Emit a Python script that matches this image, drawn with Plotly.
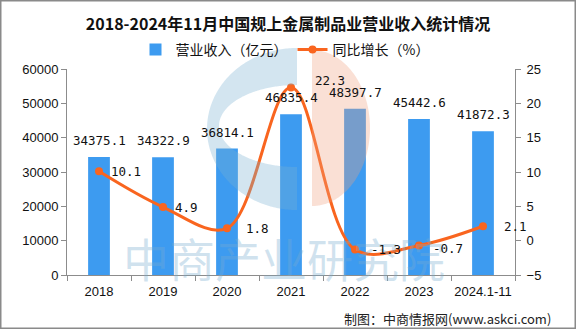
import numpy as np
import plotly.graph_objects as go

# ---- data ----
years = ["2018", "2019", "2020", "2021", "2022", "2023", "2024.1-11"]
revenue = [34375.1, 34322.9, 36814.1, 46835.4, 48397.7, 45442.6, 41872.3]   # 亿元
growth = [10.1, 4.9, 1.8, 22.3, -1.3, -0.7, 2.1]                            # %

# ---- styling ----
BAR_COLOR = "#3D9BF0"
LINE_COLOR = "#F9651F"
AXIS_COLOR = "#8C8C8C"
CJK = "Noto Sans CJK SC"
NUM = "DejaVu Sans Mono"
TICK = "Liberation Sans"

W, H = 576, 329
ML, MR, MT, MB = 67, 61, 69, 54
PW, PH = W - ML - MR, H - MT - MB

# label offsets (px) for the growth-rate labels
growth_dx = [10, 10, 17, 22, 14, 12, 19]
growth_dy = [0, 0, 0, 7, 0, -3, 0]


def px2paper(x, y):
    return (x - ML) / PW, (MT + PH - y) / PH


def path_from(points):
    pts = [px2paper(x, y) for x, y in points]
    return "M " + " L ".join(f"{a:.4f},{b:.4f}" for a, b in pts) + " Z"


# background logo: a "C" on the left and a half disc on the right
bx, by, brx, bry = 297, 129, 90, 81        # outer edge of the C
hx, hy, hrx, hry = 297, 126, 78, 41        # opening of the C
t = np.linspace(0, np.pi, 180)
c_outer = [(bx - brx * np.sin(a), by - bry * np.cos(a)) for a in t]
c_inner = [(hx - hrx * np.sin(a), hy - hry * np.cos(a)) for a in t[::-1]]
letter_c = path_from(c_outer + c_inner)

sx, sy, srx, sry = 312, 128, 58, 78
half_disc = path_from([(sx + srx * np.sin(a), sy - sry * np.cos(a)) for a in t])

fig = go.Figure()
fig.add_trace(go.Bar(
    x=years, y=revenue, name="营业收入（亿元）",
    marker=dict(color=BAR_COLOR, line=dict(width=0)),
    yaxis="y",
))
fig.add_trace(go.Scatter(
    x=years, y=growth, name="同比增长（%）",
    mode="lines+markers",
    line=dict(color=LINE_COLOR, width=3, shape="spline", smoothing=1),
    marker=dict(color=LINE_COLOR, size=8),
    yaxis="y2",
))

annotations = []
# watermark text
annotations.append(dict(
    text="中商产业研究院", xref="paper", yref="paper",
    x=px2paper(284, 0)[0], y=px2paper(0, 257)[1],
    xanchor="center", yanchor="middle", showarrow=False,
    font=dict(family=CJK, size=46, color="rgba(120,172,208,0.34)"),
))
# bar value labels (x given as category index)
for i, v in enumerate(revenue):
    annotations.append(dict(
        x=i, y=v, xref="x", yref="y", text=f"{v:.1f}",
        xanchor="center", yanchor="bottom", yshift=7, showarrow=False,
        font=dict(family=NUM, size=12.5, color="#111111"),
    ))
# growth labels
for i, (g, dx, dy) in enumerate(zip(growth, growth_dx, growth_dy)):
    annotations.append(dict(
        x=i, y=g, xref="x", yref="y2", text=f"{g:.1f}",
        xanchor="left", yanchor="middle", xshift=dx, yshift=dy, showarrow=False,
        font=dict(family=NUM, size=12.5, color="#111111"),
    ))
# source note
annotations.append(dict(
    text="制图：中商情报网(www.askci.com)", xref="paper", yref="paper",
    x=px2paper(553, 0)[0], y=px2paper(0, 318)[1],
    xanchor="right", yanchor="middle", showarrow=False,
    font=dict(family=CJK, size=13, color="#222222"),
))

shapes = [
    dict(type="path", path=letter_c, xref="paper", yref="paper",
         fillcolor="rgb(120,175,210)", opacity=0.33, line=dict(width=0), layer="above"),
    dict(type="path", path=half_disc, xref="paper", yref="paper",
         fillcolor="rgb(241,161,126)", opacity=0.33, line=dict(width=0), layer="above"),
    dict(type="rect", xref="paper", yref="paper",
         x0=px2paper(0.75, 0)[0], x1=px2paper(575.25, 0)[0],
         y0=px2paper(0, 328.25)[1], y1=px2paper(0, 0.75)[1],
         line=dict(color="#8A8A8A", width=1.5), fillcolor="rgba(0,0,0,0)", layer="above"),
]

fig.update_layout(
    width=W, height=H,
    margin=dict(l=ML, r=MR, t=MT, b=MB, pad=0, autoexpand=False),
    paper_bgcolor="white", plot_bgcolor="white",
    bargap=0.66,
    showlegend=True,
    title=dict(
        text="<b>2018-2024年11月中国规上金属制品业营业收入统计情况</b>",
        x=0.5, xref="container", xanchor="center",
        y=1 - 24 / H, yref="container", yanchor="middle",
        font=dict(family=CJK, size=16, color="#111111"),
    ),
    legend=dict(
        orientation="h", x=px2paper(285, 0)[0], xanchor="center",
        y=px2paper(0, 50)[1], yanchor="middle",
        font=dict(family=CJK, size=14, color="#111111"),
        bgcolor="rgba(0,0,0,0)", itemwidth=30,
    ),
    xaxis=dict(
        type="category", showline=True, linecolor=AXIS_COLOR, linewidth=1,
        ticks="outside", tickson="boundaries", ticklen=5, tickcolor=AXIS_COLOR,
        showgrid=False, zeroline=False, range=[-0.5, len(years) - 0.5],
        tickangle=0, automargin=False, ticklabelstandoff=4,
        tickfont=dict(family=TICK, size=13, color="#111111"),
    ),
    yaxis=dict(
        range=[0, 60000], dtick=10000, tickformat="d", showline=True,
        linecolor=AXIS_COLOR, linewidth=1, automargin=False,
        ticks="outside", ticklen=5, tickcolor=AXIS_COLOR, showgrid=False, zeroline=False,
        tickfont=dict(family=TICK, size=13, color="#111111"),
    ),
    yaxis2=dict(
        range=[-5, 25], dtick=5, overlaying="y", side="right",
        showline=True, linecolor=AXIS_COLOR, linewidth=1, automargin=False,
        ticks="outside", ticklen=5, tickcolor=AXIS_COLOR, showgrid=False, zeroline=False,
        ticklabelstandoff=3,
        tickfont=dict(family=TICK, size=13, color="#111111"),
    ),
    annotations=annotations,
    shapes=shapes,
)

fig.write_html("out.html")
